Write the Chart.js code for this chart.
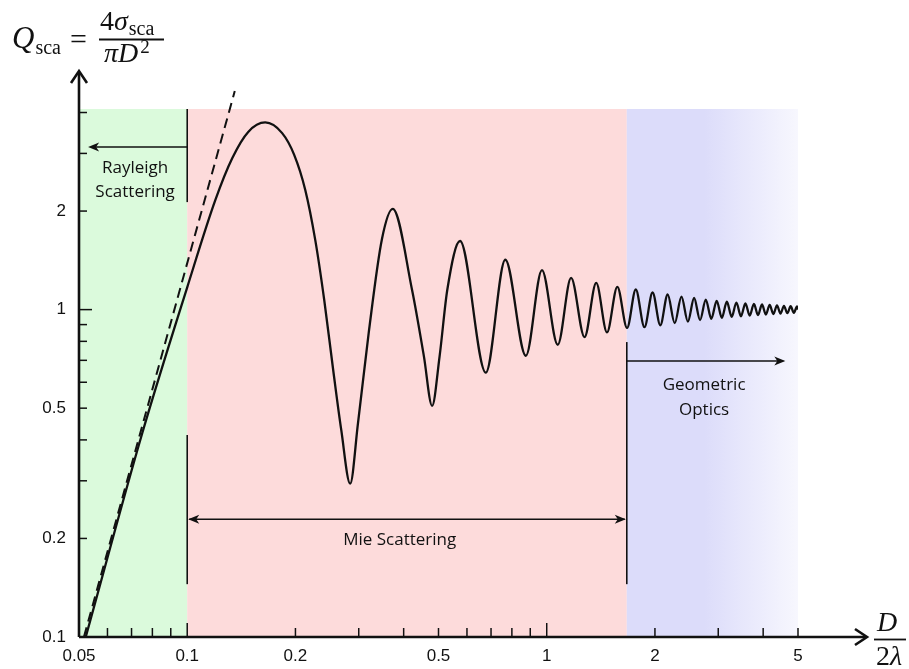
<!DOCTYPE html>
<html>
<head>
<meta charset="utf-8">
<script src="https://cdn.jsdelivr.net/npm/chart.js@4.4.1/dist/chart.umd.min.js"></script>
<style>
  html, body { margin: 0; padding: 0; background: #fff; }
</style>
</head>
<body>
<canvas id="chart-mie" width="909" height="669"></canvas>
<script>
// Q_sca against size parameter D/(2λ)
const mieX = [0.0522, 0.075, 0.1, 0.1197, 0.1334, 0.1478, 0.1648, 0.1837,
  0.1984, 0.213, 0.2271, 0.2405, 0.2547, 0.2682, 0.284, 0.2985, 0.3197, 0.348,
  0.373, 0.422, 0.4554, 0.48, 0.5035, 0.529, 0.574, 0.677, 0.767, 0.875,
  0.97, 1.073, 1.169, 1.274, 1.373, 1.471, 1.572, 1.673, 1.769, 1.87,
  1.97, 2.07, 2.17, 2.27, 2.37, 2.47, 2.57, 2.67, 2.77, 2.87,
  2.97, 3.07, 3.17, 3.27, 3.37, 3.47, 3.57, 3.67, 3.77, 3.87,
  3.97, 4.07, 4.17, 4.27, 4.37, 4.47, 4.57, 4.67, 4.77, 4.87,
  4.97, 5.0]
const mieY = [0.1, 0.42, 1.17, 2.16, 2.90, 3.49, 3.73, 3.46,
  2.97, 2.32, 1.63, 1.07, 0.654, 0.429, 0.294, 0.449, 0.848, 1.64,
  2.03, 1.15, 0.72, 0.508, 0.72, 1.15, 1.62, 0.642, 1.42, 0.723,
  1.32, 0.781, 1.25, 0.824, 1.207, 0.852, 1.174, 0.879, 1.152, 0.884,
  1.128, 0.896, 1.112, 0.909, 1.096, 0.919, 1.085, 0.929, 1.073, 0.937,
  1.064, 0.944, 1.057, 0.950, 1.051, 0.954, 1.045, 0.958, 1.041, 0.962,
  1.037, 0.966, 1.033, 0.969, 1.030, 0.972, 1.027, 0.975, 1.024, 0.977,
  1.022, 1.0]

// Rayleigh asymptote (dashed)
const rayleighX = [0.0516, 0.1356]
const rayleighY = [0.1, 4.65]

const xTickValues = [0.05, 0.06, 0.07, 0.08, 0.09, 0.1, 0.2, 0.3, 0.4, 0.5, 0.6, 0.7, 0.8, 0.9, 1, 2, 3, 4, 5]
const xTickLabels = ["0.05", "0.1", "0.2", "0.5", "1", "2", "5"]
const yTickValues = [0.1, 0.2, 0.3, 0.4, 0.5, 0.6, 0.7, 0.8, 0.9, 1, 2, 3, 4]
const yTickLabels = ["0.1", "0.2", "0.5", "1", "2"]

// scattering regimes
const regimeStart = [0.05, 0.1, 1.67]
const regimeEnd = [0.1, 1.67, 5]
const regimeColors = ["#dbfadc", "#fddbdb", "#dcdcfa"]

const textFont = "17px 'Open Sans', 'Noto Sans', sans-serif"

function arrowHead(ctx, x, y, dir) {
  // small filled head, dir = 1 points right, -1 points left
  ctx.beginPath()
  ctx.moveTo(x, y)
  ctx.lineTo(x - dir * 11, y - 4.5)
  ctx.lineTo(x - dir * 8, y)
  ctx.lineTo(x - dir * 11, y + 4.5)
  ctx.closePath()
  ctx.fill()
}

function line(ctx, x0, y0, x1, y1) {
  ctx.beginPath()
  ctx.moveTo(x0, y0)
  ctx.lineTo(x1, y1)
  ctx.stroke()
}

const decor = {
  id: "decor",
  beforeDatasetsDraw(chart) {
    const { ctx, chartArea: a, scales: { x } } = chart
    ctx.save()
    regimeStart.forEach((s, i) => {
      const x0 = x.getPixelForValue(s)
      const x1 = x.getPixelForValue(regimeEnd[i])
      let fill = regimeColors[i]
      if (i === 2) {
        const g = ctx.createLinearGradient(x0, 0, x1, 0)
        g.addColorStop(0, regimeColors[i])
        g.addColorStop(0.45, regimeColors[i])
        g.addColorStop(1, "#f7f7fe")
        fill = g
      }
      ctx.fillStyle = fill
      ctx.fillRect(x0, a.top, x1 - x0, a.bottom - a.top)
    })
    ctx.restore()
  },
  afterDraw(chart) {
    const { ctx, chartArea: a, scales: { x, y } } = chart
    const X = v => x.getPixelForValue(v)
    const Y = v => y.getPixelForValue(v)
    ctx.save()
    ctx.strokeStyle = "#111"
    ctx.fillStyle = "#111"

    // tick marks, pointing into the plot
    ctx.lineWidth = 1.5
    xTickValues.slice(1).forEach(v => {
      const len = (v === 0.1 || v === 1) ? 14 : 9
      line(ctx, X(v), a.bottom, X(v), a.bottom - len)
    })
    yTickValues.slice(1).forEach(v => {
      const len = v === 1 ? 13 : 8
      line(ctx, a.left, Y(v), a.left + len, Y(v))
    })

    // axes with open arrow heads
    ctx.lineWidth = 2.6
    line(ctx, a.left, a.bottom, a.left, 72)
    line(ctx, a.left, a.bottom, 866, a.bottom)
    ctx.beginPath()
    ctx.moveTo(a.left - 8, 83); ctx.lineTo(a.left, 71); ctx.lineTo(a.left + 8, 83)
    ctx.stroke()
    ctx.beginPath()
    ctx.moveTo(855, a.bottom - 8); ctx.lineTo(867, a.bottom); ctx.lineTo(855, a.bottom + 8)
    ctx.stroke()

    // Rayleigh bracket
    ctx.lineWidth = 1.6
    line(ctx, X(0.1), a.top, X(0.1), Y(2.13))
    line(ctx, X(0.1), Y(3.14), X(0.054), Y(3.14))
    arrowHead(ctx, X(0.053), Y(3.14), -1)

    // Mie bracket
    line(ctx, X(0.1), Y(0.414), X(0.1), Y(0.145))
    line(ctx, X(1.67), Y(0.796), X(1.67), Y(0.145))
    line(ctx, X(0.1) + 2, Y(0.229), X(1.67) - 2, Y(0.229))
    arrowHead(ctx, X(0.1) + 1, Y(0.229), -1)
    arrowHead(ctx, X(1.67) - 1, Y(0.229), 1)

    // geometric optics arrow
    line(ctx, X(1.67), Y(0.697), X(4.55), Y(0.697))
    arrowHead(ctx, X(4.61), Y(0.697), 1)

    ctx.font = textFont
    ctx.textAlign = "center"
    ctx.textBaseline = "middle"
    const mid = Math.sqrt(regimeStart[0] * regimeEnd[0])
    ctx.fillText("Rayleigh", X(mid) + 2, Y(2.7))
    ctx.fillText("Scattering", X(mid) + 2, Y(2.28))
    ctx.fillText("Mie Scattering", X(0.39), Y(0.198))
    ctx.fillText("Geometric", X(2.74), Y(0.589))
    ctx.fillText("Optics", X(2.74), Y(0.494))

    // y title: Q_sca = 4σ_sca / πD²
    ctx.textAlign = "left"
    ctx.textBaseline = "alphabetic"
    const it = s => "italic " + s + "px 'Liberation Serif', serif"
    const up = s => s + "px 'Liberation Serif', serif"
    const put = (txt, font, px, py) => { ctx.font = font; ctx.fillText(txt, px, py); return px + ctx.measureText(txt).width }
    let cx = put("Q", it(31), 12, 48)
    put("sca", up(20), cx + 1, 54)
    put("=", up(30), 70, 49)
    cx = put("4", up(28), 100, 30)
    cx = put("σ", it(28), cx, 30)
    put("sca", up(20), cx + 1, 35)
    ctx.lineWidth = 1.8
    line(ctx, 99, 39.5, 164, 39.5)
    cx = put("π", it(28), 104, 62)
    cx = put("D", it(28), cx, 62)
    put("2", up(19), cx + 2, 53)

    // x title: D / 2λ
    ctx.textAlign = "center"
    put("D", it(28), 887, 631)
    line(ctx, 874, 639.5, 906, 639.5)
    ctx.textAlign = "left"
    cx = put("2", up(28), 876, 665)
    put("λ", it(28), cx, 665)
    ctx.restore()
  }
}

new Chart(document.getElementById("chart-mie"), {
  type: "line",
  data: {
    datasets: [{
      label: "Q_sca",
      data: mieX.map((v, i) => ({ x: v, y: mieY[i] })),
      borderColor: "#111",
      borderWidth: 2.3,
      pointRadius: 0,
      cubicInterpolationMode: "monotone",
      fill: false
    }, {
      label: "Rayleigh",
      data: rayleighX.map((v, i) => ({ x: v, y: rayleighY[i] })),
      borderColor: "#111",
      borderWidth: 2,
      borderDash: [10, 6],
      pointRadius: 0,
      clip: false,
      fill: false
    }]
  },
  options: {
    responsive: false,
    animation: false,
    layout: { padding: { left: 0, right: 111, top: 109, bottom: 0 } },
    plugins: { legend: { display: false }, tooltip: { enabled: false } },
    scales: {
      x: {
        type: "logarithmic",
        min: 0.05,
        max: 5,
        border: { display: false },
        grid: { display: false, drawTicks: false },
        afterBuildTicks: s => { s.ticks = xTickValues.map(v => ({ value: v })) },
        afterFit: s => { s.height = 32 },
        ticks: {
          autoSkip: false,
          maxRotation: 0,
          padding: 9,
          color: "#111",
          font: { family: "'Liberation Sans', Arial, sans-serif", size: 17 },
          callback: v => xTickLabels.includes(String(v)) ? String(v) : ""
        }
      },
      y: {
        type: "logarithmic",
        min: 0.1,
        max: 4.1,
        border: { display: false },
        grid: { display: false, drawTicks: false },
        afterBuildTicks: s => { s.ticks = yTickValues.map(v => ({ value: v })) },
        afterFit: s => { s.width = 79 },
        ticks: {
          autoSkip: false,
          padding: 13,
          color: "#111",
          font: { family: "'Liberation Sans', Arial, sans-serif", size: 17 },
          callback: v => yTickLabels.includes(String(v)) ? String(v) : ""
        }
      }
    }
  },
  plugins: [decor]
})
</script>
</body>
</html>
